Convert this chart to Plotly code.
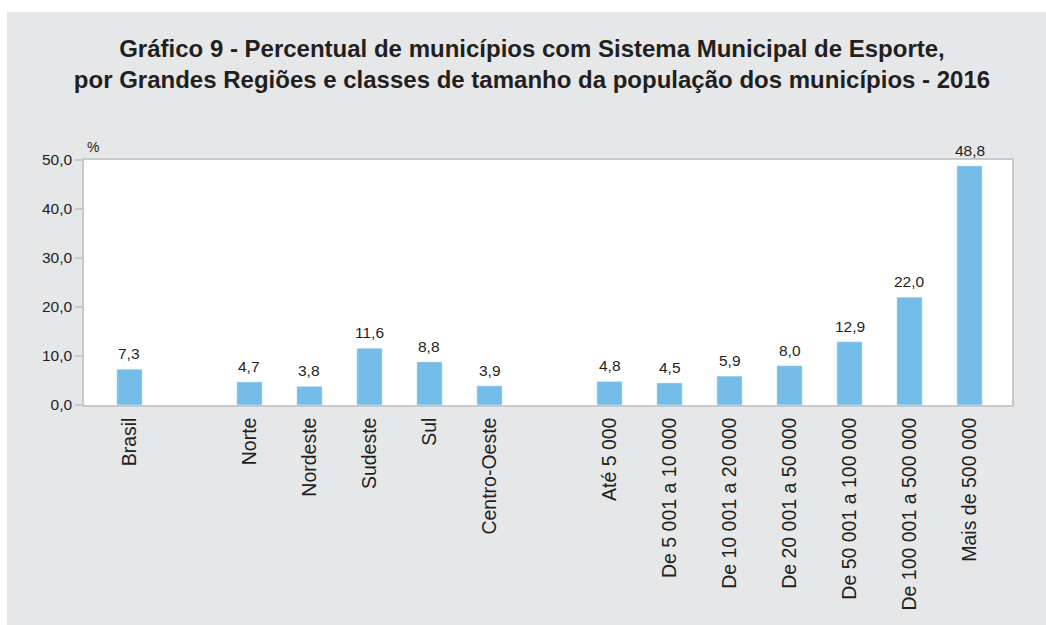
import plotly.graph_objects as go

categories = ["Brasil", " ", "Norte", "Nordeste", "Sudeste", "Sul", "Centro-Oeste", "  ",
              "Até 5 000", "De 5 001 a 10 000", "De 10 001 a 20 000", "De 20 001 a 50 000",
              "De 50 001 a 100 000", "De 100 001 a 500 000", "Mais de 500 000"]
values = [7.3, None, 4.7, 3.8, 11.6, 8.8, 3.9, None, 4.8, 4.5, 5.9, 8.0, 12.9, 22.0, 48.8]
labels = [("%.1f" % v).replace(".", ",") if v is not None else "" for v in values]
y_ticks = [0, 10, 20, 30, 40, 50]
y_tick_labels = ["0,0", "10,0", "20,0", "30,0", "40,0", "50,0"]

GRAY = "#e6e7e9"
TXT = "#231f20"
FONT = "Liberation Sans"

xs = list(range(len(categories)))
fig = go.Figure(go.Bar(
    x=xs, y=values, marker_color="#74bde8",
    width=0.42, cliponaxis=False, hoverinfo="skip"))

value_annotations = [
    dict(x=x, y=v, text=t, xref="x", yref="y", showarrow=False, xanchor="center",
         yanchor="bottom", yshift=5, font=dict(family=FONT, size=15.5, color=TXT))
    for x, v, t in zip(xs, values, labels) if v is not None
]

fig.update_layout(
    width=1046, height=625,
    margin=dict(l=84, r=34, t=160, b=220),
    paper_bgcolor=GRAY, plot_bgcolor="white",
    showlegend=False,
    title=dict(text="Gráfico 9 - Percentual de municípios com Sistema Municipal de Esporte,<br>"
                    "por Grandes Regiões e classes de tamanho da população dos municípios - 2016",
               x=0.5086, xref="container", xanchor="center",
               y=1 - 57 / 625, yref="container", yanchor="top",
               font=dict(family=FONT, size=24, color=TXT, weight="bold")),
    xaxis=dict(tickmode="array", tickvals=xs, ticktext=categories,
               range=[-0.758, 14.708], tickangle=-90, ticks="", showgrid=False,
               showline=True, linecolor="#c8c9cb", linewidth=1.5, mirror=True,
               ticklabelstandoff=3,
               tickfont=dict(family=FONT, size=19.5, color=TXT), zeroline=False),
    yaxis=dict(range=[0, 50], tickvals=y_ticks, ticktext=y_tick_labels, showgrid=False,
               ticks="outside", ticklen=7, tickcolor="#c8c9cb", tickwidth=1.5,
               showline=True, linecolor="#c8c9cb", linewidth=1.5, mirror=True,
               tickfont=dict(family=FONT, size=15.5, color=TXT), zeroline=False),
    shapes=[
        dict(type="rect", xref="paper", yref="paper", x0=-0.2, x1=1.1,
             y0=(405 - 12) / 245, y1=2.0, fillcolor="white", line_width=0, layer="above"),
        dict(type="rect", xref="paper", yref="paper", x0=-0.2, x1=(7 - 84) / 928,
             y0=-1.2, y1=2.0, fillcolor="white", line_width=0, layer="above"),
    ],
    annotations=value_annotations + [
        dict(text="%", xref="paper", yref="paper", x=(93 - 84) / 928,
             y=(405 - 147) / 245, showarrow=False, xanchor="center", yanchor="middle",
             font=dict(family=FONT, size=14, color=TXT))],
)

fig.write_html("out.html", config={"displayModeBar": False},
               post_script="document.body.style.margin='0';")
